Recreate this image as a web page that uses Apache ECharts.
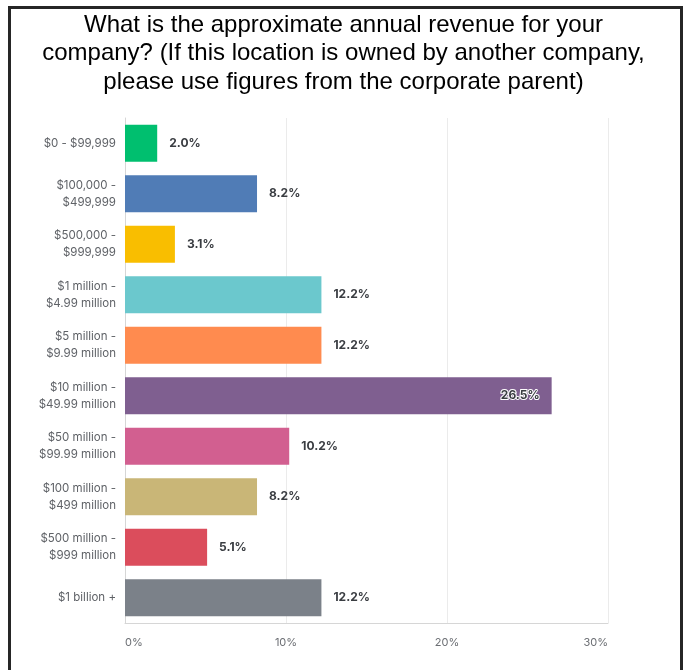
<!DOCTYPE html>
<html>
<head>
<meta charset="utf-8">
<script src="https://cdn.jsdelivr.net/npm/echarts@6/dist/echarts.min.js"></script>
<style>
  html, body { margin: 0; padding: 0; background: #ffffff; }
  #chart { width: 687px; height: 670px; }
</style>
</head>
<body>
<div id="chart"></div>
<script>
// Revenue brackets, top to bottom
const categories = [
  '$0 - $99,999',
  '$100,000 -\n$499,999',
  '$500,000 -\n$999,999',
  '$1 million -\n$4.99 million',
  '$5 million -\n$9.99 million',
  '$10 million -\n$49.99 million',
  '$50 million -\n$99.99 million',
  '$100 million -\n$499 million',
  '$500 million -\n$999 million',
  '$1 billion +'
];
// Share of respondents, percent
const shares = [2.0, 8.2, 3.1, 12.2, 12.2, 26.5, 10.2, 8.2, 5.1, 12.2];
const barColors = ['#00bf6f', '#507cb6', '#f9be00', '#6bc8cd', '#ff8b4f',
                   '#7f5f90', '#d25f90', '#c9b677', '#db4d5c', '#7b8189'];
const xTicks = [0, 10, 20, 30];

const titleText = 'What is the approximate annual revenue for your\n' +
  'company? (If this location is owned by another company,\n' +
  'please use figures from the corporate parent)';

const chart = echarts.init(document.getElementById('chart'));

const seriesData = shares.map((v, i) => {
  const item = { value: v, itemStyle: { color: barColors[i] } };
  if (v > 20) {
    item.label = {
      position: 'insideRight',
      distance: 12,
      color: '#3a3d42',
      textBorderColor: '#ffffff',
      textBorderWidth: 2
    };
  }
  return item;
});

chart.setOption({
  animation: false,
  backgroundColor: '#ffffff',
  graphic: [{
    type: 'rect',
    shape: { x: 9.5, y: 7.5, width: 672, height: 700 },
    style: { fill: 'none', stroke: '#262626', lineWidth: 3 },
    silent: true
  }],
  title: {
    text: titleText,
    left: 'center',
    top: 6,
    textStyle: {
      fontFamily: 'Liberation Sans, Arial, sans-serif',
      fontSize: 24,
      fontWeight: 'normal',
      color: '#000000',
      lineHeight: 28.5
    }
  },
  grid: { left: 125, right: 79, top: 118, bottom: 47, containLabel: false },
  xAxis: {
    type: 'value',
    min: xTicks[0],
    max: xTicks[xTicks.length - 1],
    interval: 10,
    axisLine: { show: true, lineStyle: { color: '#d6d6d6', width: 1 } },
    axisTick: { show: false },
    splitLine: { show: true, lineStyle: { color: '#ebebeb', width: 1 } },
    axisLabel: {
      formatter: '{value}%',
      fontFamily: 'Inter, sans-serif',
      fontSize: 11,
      color: '#6b6e73',
      margin: 14,
      alignMinLabel: 'left',
      alignMaxLabel: 'right'
    }
  },
  yAxis: {
    type: 'category',
    data: categories,
    inverse: true,
    axisLine: { show: true, lineStyle: { color: '#d6d6d6', width: 1 } },
    axisTick: { show: false },
    axisLabel: {
      fontFamily: 'Inter, sans-serif',
      fontSize: 11.5,
      color: '#5f6267',
      lineHeight: 17,
      margin: 9,
      align: 'right'
    }
  },
  series: [{
    type: 'bar',
    data: seriesData,
    barCategoryGap: '27%',
    label: {
      show: true,
      position: 'right',
      distance: 12,
      formatter: p => p.value.toFixed(1) + '%',
      fontFamily: 'Inter, sans-serif',
      fontSize: 12,
      fontWeight: 'bold',
      color: '#3a3d42'
    }
  }]
});
</script>
</body>
</html>
